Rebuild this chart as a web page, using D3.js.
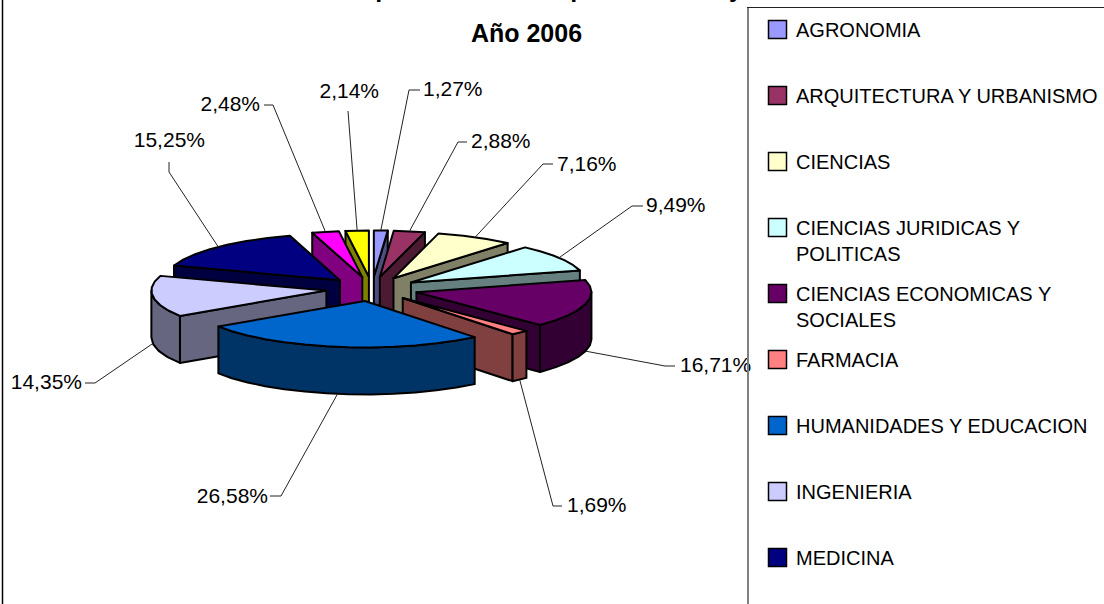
<!DOCTYPE html>
<html>
<head>
<meta charset="utf-8">
<script src="https://cdn.jsdelivr.net/npm/d3@7"></script>
<style>
  html, body { margin: 0; padding: 0; background: #fff; overflow: hidden; }
  svg { display: block; font-family: "Liberation Sans", Arial, sans-serif; }
</style>
</head>
<body>
<svg id="chart" width="1104" height="604"></svg>
<script>
// data
const categories = ["AGRONOMIA", "ARQUITECTURA Y URBANISMO", "CIENCIAS", "CIENCIAS JURIDICAS Y POLITICAS",
  "CIENCIAS ECONOMICAS Y SOCIALES", "FARMACIA", "HUMANIDADES Y EDUCACION", "INGENIERIA", "MEDICINA"];
const values = [1.27, 2.88, 7.16, 9.49, 16.71, 1.69, 26.58, 14.35, 15.25, 2.48, 2.14];
const valueLabels = ["1,27%", "2,88%", "7,16%", "9,49%", "16,71%", "1,69%", "26,58%", "14,35%", "15,25%", "2,48%", "2,14%"];
const colors = ["#9999ff", "#993366", "#ffffcc", "#ccffff", "#660066", "#ff8080", "#0066cc", "#ccccff", "#000080", "#ff00ff", "#ffff00"];
// the last two slices have no legend row inside the crop
const legendRows = [["AGRONOMIA"], ["ARQUITECTURA Y URBANISMO"], ["CIENCIAS"], ["CIENCIAS JURIDICAS Y", "POLITICAS"],
  ["CIENCIAS ECONOMICAS Y", "SOCIALES"], ["FARMACIA"], ["HUMANIDADES Y EDUCACION"], ["INGENIERIA"], ["MEDICINA"]];

// layout
const cx = 372, cy = 289, radius = 175, tilt = 0.265, explode = 46, depth = 47;
// label text x, baseline, anchor, then the leader's outer points
const labelLayout = [
  { x: 423, y: 96, anchor: "start", leader: [[420, 90], [409, 90]] },
  { x: 471, y: 148, anchor: "start", leader: [[467, 142], [458, 142]] },
  { x: 557, y: 171, anchor: "start", leader: [[553, 164], [543, 164]] },
  { x: 646, y: 212, anchor: "start", leader: [[643, 206], [632, 206]] },
  { x: 680, y: 372, anchor: "start", leader: [[675, 366], [665, 366]] },
  { x: 567, y: 512, anchor: "start", leader: [[562, 506], [553, 506]] },
  { x: 268, y: 503, anchor: "end", leader: [[270, 496], [281, 496]] },
  { x: 82, y: 389, anchor: "end", leader: [[85, 383], [95, 383]] },
  { x: 205, y: 147, anchor: "end", leader: [[169, 162], [169, 172]] },
  { x: 260, y: 111, anchor: "end", leader: [[264, 105], [273, 105]] },
  { x: 379, y: 98, anchor: "end", leader: [[348, 111]] }
];

const svg = d3.select("#chart");
const line = d3.line();

const pie = d3.pie().sort(null)(values).map((d, i) => {
  const mid = (d.startAngle + d.endAngle) / 2;
  return {
    i,
    a0: d.startAngle,
    a1: d.endAngle,
    mid,
    ox: cx + explode * Math.sin(mid),
    oy: cy - explode * tilt * Math.cos(mid)
  };
});

const rim = (s, a) => [s.ox + radius * Math.sin(a), s.oy - radius * tilt * Math.cos(a)];
const drop = (p) => [p[0], p[1] + depth];

// straight steps along the rim, like the coarse arcs in the original
function rimPoints(s, from, to) {
  const n = Math.max(1, Math.round((to - from) / (Math.PI / 24)));
  return d3.range(n + 1).map((k) => rim(s, from + ((to - from) * k) / n));
}

function face(points, fill) {
  svg.append("path")
    .attr("d", line(points) + "Z")
    .attr("fill", fill)
    .attr("stroke", "#000")
    .attr("stroke-width", 2)
    .attr("stroke-linejoin", "round");
}

// frame
svg.append("line").attr("x1", 2.5).attr("x2", 2.5).attr("y1", 0).attr("y2", 604)
  .attr("stroke", "#000").attr("stroke-width", 1.5);

// title: first line is cut off by the crop, only its descenders show
[["p", 383], ["p", 578], ["y", 736]].forEach(([t, x]) => {
  svg.append("text").attr("x", x).attr("y", -3).attr("text-anchor", "middle")
    .attr("font-size", 25).attr("font-weight", "bold").text(t);
});
svg.append("text").attr("x", 526.5).attr("y", 42).attr("text-anchor", "middle")
  .attr("font-size", 25).attr("font-weight", "bold").attr("fill", "#000").text("Año 2006");

// slices, back to front
pie.slice().sort((a, b) => Math.cos(b.mid) - Math.cos(a.mid)).forEach((s) => {
  const apex = [s.ox, s.oy];
  const side = d3.color(colors[s.i]).darker(0);
  side.r *= 0.5; side.g *= 0.5; side.b *= 0.5;
  const sideFill = side.formatHex();

  if (Math.sin(s.a0) < 0) {
    const p = rim(s, s.a0);
    face([apex, p, drop(p), drop(apex)], sideFill);
  }
  if (Math.sin(s.a1) > 0) {
    const p = rim(s, s.a1);
    face([apex, p, drop(p), drop(apex)], sideFill);
  }
  const from = Math.max(s.a0, Math.PI / 2), to = Math.min(s.a1, Math.PI * 1.5);
  if (to > from) {
    const top = rimPoints(s, from, to);
    face(top.concat(top.map(drop).reverse()), sideFill);
  }
  face([apex].concat(rimPoints(s, s.a0, s.a1)), colors[s.i]);
});

// leaders and value labels
pie.forEach((s) => {
  const l = labelLayout[s.i];
  const onRim = rim(s, s.mid);
  const end = Math.cos(s.mid) < 0 ? drop(onRim) : onRim;
  svg.append("path")
    .attr("d", line(l.leader.concat([end])))
    .attr("fill", "none")
    .attr("stroke", "#222")
    .attr("stroke-width", 1);
  svg.append("text")
    .attr("x", l.x).attr("y", l.y)
    .attr("text-anchor", l.anchor)
    .attr("font-size", 21)
    .attr("fill", "#000")
    .text(valueLabels[s.i]);
});

// legend
svg.append("path").attr("d", "M748,604V8").attr("fill", "none").attr("stroke", "#808080").attr("stroke-width", 2);
svg.append("path").attr("d", "M747,7.5H1104").attr("fill", "none").attr("stroke", "#222").attr("stroke-width", 1);

const legendY = d3.scalePoint().domain(categories).range([29.5, 557.5]);
legendRows.forEach((rows, i) => {
  const y = legendY(categories[i]);
  svg.append("rect")
    .attr("x", 768.5).attr("y", y - 9).attr("width", 18).attr("height", 18)
    .attr("fill", colors[i]).attr("stroke", "#000").attr("stroke-width", 1.5);
  rows.forEach((t, k) => {
    svg.append("text")
      .attr("x", 796).attr("y", y + 7 + k * 26)
      .attr("font-size", 20)
      .attr("fill", "#000")
      .text(t);
  });
});
</script>
</body>
</html>
